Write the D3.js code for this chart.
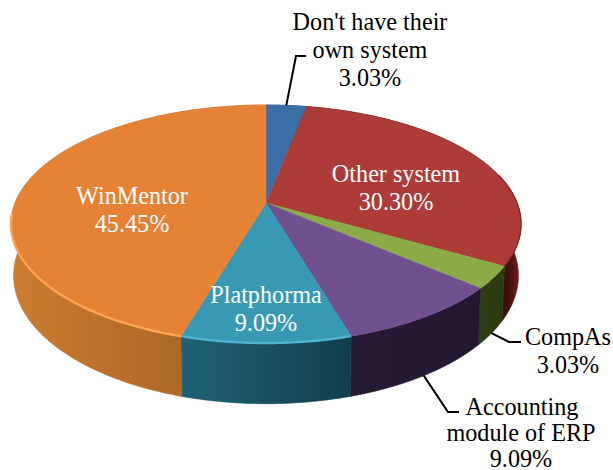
<!DOCTYPE html>
<html>
<head>
<meta charset="utf-8">
<script src="https://cdn.jsdelivr.net/npm/d3@7"></script>
<style>
  html, body { margin: 0; padding: 0; background: #fff; }
  svg { display: block; }
  text { font-family: "Liberation Serif", serif; font-size: 24.2px; text-anchor: middle; }
</style>
</head>
<body>
<svg id="chart" width="613" height="470"></svg>
<script>
const categories = ["Don't have their own system", "Other system", "CompAs", "Accounting module of ERP", "Platphorma", "WinMentor"];
const shares = [3.03, 30.30, 3.03, 9.09, 9.09, 45.45];
const topColors = ["#3c6fa8", "#ad3c39", "#8aab47", "#70508e", "#3899b5", "#e58235"];
const sideLeft = ["#24456b", "#7a2320", "#303f12", "#271a35", "#1f6376", "#cb7d31"];
const sideRight = ["#24456b", "#3f0f0c", "#2c3a10", "#231830", "#123e4c", "#a05c20"];
const rimColors = ["#3c6fa8", "#7c2c2a", "#8aab47", "#70508e", "#4fb4d2", "#ffa552"];

const svg = d3.select("#chart");
const tilt = 0.1765;   // perspective of the disc
const depth = 50;
const baseShrink = 0.99;

const sx = d3.scaleLinear().domain([-1, 1]).range([266 - 251, 266 + 251]);
const sy = d3.scaleLinear().domain([-1, 1]).range([203 - 115.3, 203 + 115.3]);

const pie = d3.pie().sort(null).value(d => d);
const arcs = pie(shares);

// angle on the disc -> screen
function rim(a, lowered) {
  const u = Math.sin(a), v = -Math.cos(a);
  const w = 1 - tilt * v;
  const k = lowered ? baseShrink : 1;
  return [sx(k * u / w), sy(v / w) + (lowered ? depth / w : 0)];
}
function angles(a0, a1) {
  const n = Math.max(2, Math.ceil((a1 - a0) * 60));
  return d3.range(n + 1).map(i => a0 + (a1 - a0) * i / n);
}
const line = d3.line();

const defs = svg.append("defs");
defs.append("filter").attr("id", "soft")
  .append("feGaussianBlur").attr("stdDeviation", 0.7);

arcs.forEach((d, i) => {
  const xs = angles(d.startAngle, d.endAngle).map(a => rim(a, false)[0]);
  const g = defs.append("linearGradient").attr("id", "side" + i)
    .attr("gradientUnits", "userSpaceOnUse")
    .attr("x1", i === 1 ? 508 : d3.min(xs)).attr("x2", d3.max(xs)).attr("y1", 0).attr("y2", 0);
  // the right-hand slices darken towards the left
  const flip = i === 1;
  g.append("stop").attr("offset", 0).attr("stop-color", flip ? sideRight[i] : sideLeft[i]);
  g.append("stop").attr("offset", 1).attr("stop-color", flip ? sideLeft[i] : sideRight[i]);
});

// side walls first, the top faces cover whatever is behind
const sides = svg.append("g");
arcs.forEach((d, i) => {
  const as = angles(d.startAngle, d.endAngle);
  const pts = as.map(a => rim(a, false)).concat(as.slice().reverse().map(a => rim(a, true)));
  sides.append("path")
    .attr("d", line(pts) + "Z")
    .attr("fill", `url(#side${i})`)
    .attr("stroke", `url(#side${i})`)
    .attr("stroke-width", 0.6);
});

const tops = svg.append("g");
arcs.forEach((d, i) => {
  const pts = [[sx(0), sy(0)]].concat(angles(d.startAngle, d.endAngle).map(a => rim(a, false)));
  tops.append("path")
    .attr("d", line(pts) + "Z")
    .attr("fill", topColors[i])
    .attr("stroke", topColors[i])
    .attr("stroke-width", 0.5);
});

// light bevel along the front rim, dark edge on the far right
const bevel = svg.append("g").attr("filter", "url(#soft)").attr("fill", "none");
arcs.forEach((d, i) => {
  if (i !== 1 && i < 4) return;
  let a0 = d.startAngle, a1 = d.endAngle;
  if (i === 1) a0 = Math.PI * 0.42;
  if (i === 5) a1 = Math.PI * 1.47;
  bevel.append("path")
    .attr("d", line(angles(a0, a1).map(a => rim(a, false))))
    .attr("stroke", rimColors[i])
    .attr("stroke-width", i === 1 ? 1.4 : 2.4);
});

// leader lines start on the slice's rim, at its middle angle
const leaders = [
  { slice: 0, lowered: false, bend: [296, 56], end: [306, 56] },
  { slice: 2, lowered: true, bend: [509, 342], end: [521, 342] },
  { slice: 3, lowered: true, bend: [448, 412], end: [459, 412] }
];
svg.append("g").selectAll("path").data(leaders).join("path")
  .attr("d", l => {
    const d = arcs[l.slice];
    return line([rim((d.startAngle + d.endAngle) / 2, l.lowered), l.bend, l.end]);
  })
  .attr("fill", "none")
  .attr("stroke", "#000")
  .attr("stroke-width", 2);

const labels = [
  { lines: ["Don't have their", "own system", "3.03%"], x: 370, y: 30, color: "#000" },
  { lines: ["Other system", "30.30%"], x: 396, y: 182, color: "#fff" },
  { lines: ["CompAs"], x: 568, y: 345, color: "#000" },
  { lines: ["3.03%"], x: 568, y: 373, color: "#000" },
  { lines: ["Accounting"], x: 522, y: 415, color: "#000" },
  { lines: ["module of ERP"], x: 521, y: 441, color: "#000" },
  { lines: ["9.09%"], x: 521, y: 467, color: "#000" },
  { lines: ["Platphorma", "9.09%"], x: 266, y: 303, color: "#fff" },
  { lines: ["WinMentor", "45.45%"], x: 132, y: 204, color: "#fff" }
];
const labelG = svg.append("g");
labels.forEach(l => {
  l.lines.forEach((t, j) => {
    labelG.append("text")
      .attr("x", l.x)
      .attr("y", l.y + j * 28)
      .attr("fill", l.color)
      .text(t);
  });
});
</script>
</body>
</html>
